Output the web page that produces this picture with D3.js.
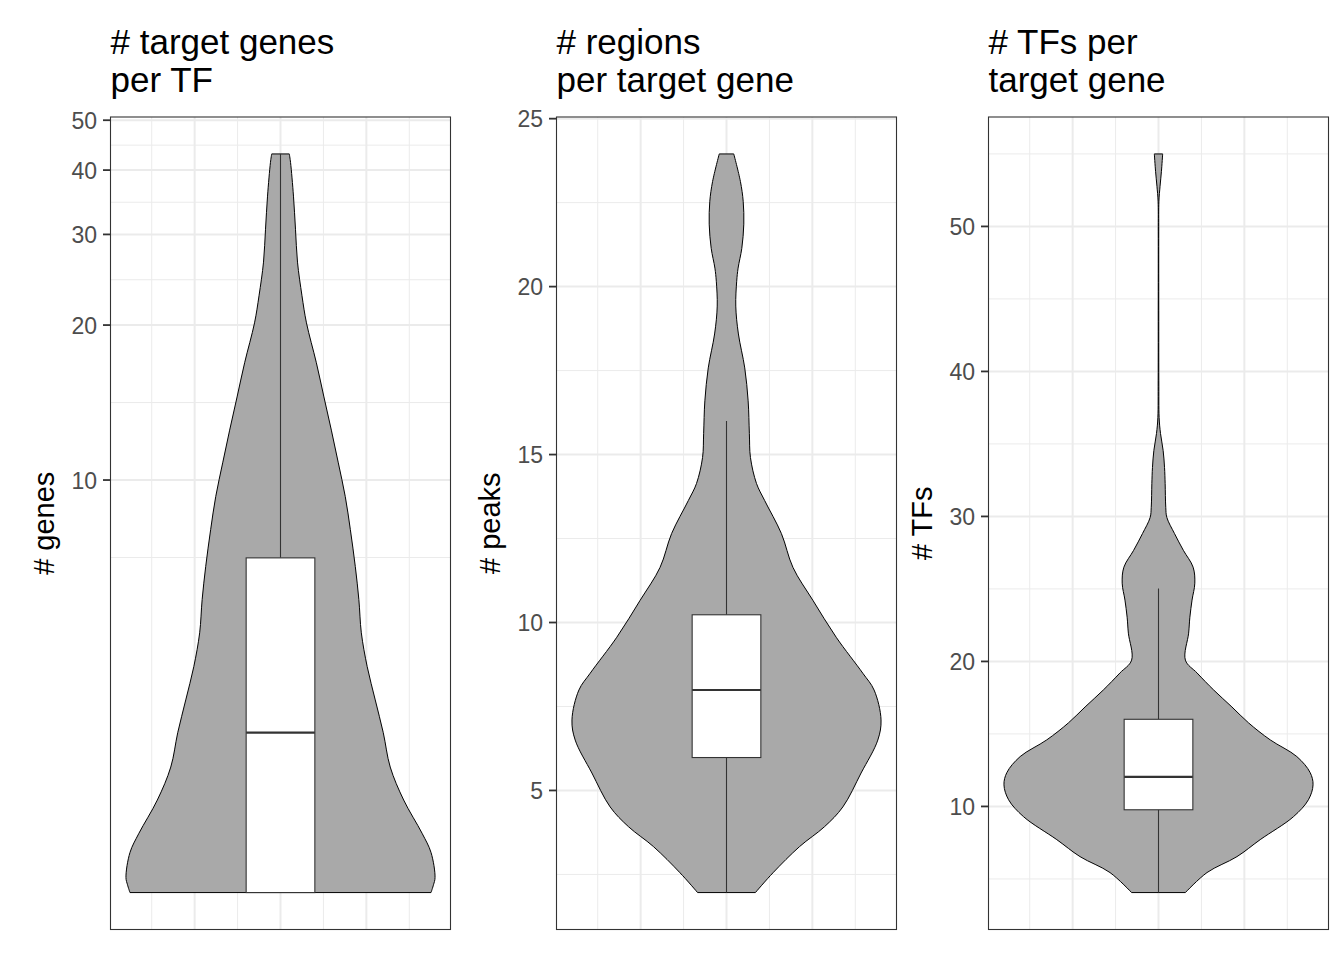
<!DOCTYPE html>
<html>
<head>
<meta charset="utf-8">
<script src="https://cdn.jsdelivr.net/npm/d3@7"></script>
<style>
  body { margin: 0; background: #fff; }
  svg { display: block; font-family: "Liberation Sans", Arial, Helvetica, sans-serif; }
</style>
</head>
<body>
<div id="chart"></div>
<script>
const width = 1344;
const height = 960;
const panelTop = 117;
const panelBottom = 929.5;
const panelWidth = 340;

// # target genes per TF (log10 axis)
const genesValues = [1.58, 1.636, 1.69, 1.89, 2.06, 2.39, 2.77, 3.23, 3.74, 4.34, 5.05, 5.86, 6.79, 8.01, 9.29, 10.8, 12.5, 14.5, 16.9, 20.2, 22.8, 26.5, 30.7, 35.6, 41.4, 43.0];
const genesDensity = [0.974, 0.99, 1.0, 0.974, 0.916, 0.797, 0.71, 0.665, 0.613, 0.561, 0.523, 0.507, 0.484, 0.452, 0.419, 0.374, 0.329, 0.281, 0.232, 0.168, 0.139, 0.11, 0.097, 0.084, 0.065, 0.057];
const genesBox = [1.58, 1.58, 3.23, 7.06, 43.0]; // lower, q1, median, q3, upper
const genesTicks = [10, 20, 30, 40, 50];

// # regions per target gene
const peaksValues = [1.96, 2.55, 3.33, 3.92, 4.51, 5.52, 6.5, 7.1, 7.99, 8.49, 9.56, 10.66, 11.64, 12.65, 13.63, 14.14, 14.91, 15.62, 16.6, 17.58, 18.59, 19.42, 20.16, 20.55, 21.14, 21.86, 22.54, 23.13, 23.95];
const peaksDensity = [0.187, 0.301, 0.473, 0.634, 0.753, 0.871, 0.979, 1.0, 0.955, 0.882, 0.71, 0.559, 0.43, 0.355, 0.247, 0.194, 0.155, 0.148, 0.14, 0.118, 0.077, 0.06, 0.066, 0.075, 0.099, 0.112, 0.108, 0.09, 0.047];
const peaksBox = [1.96, 5.98, 7.99, 10.23, 16.0];
const peaksTicks = [5, 10, 15, 20, 25];

// # TFs per target gene
const tfsValues = [4.06, 5.44, 6.54, 7.71, 9.29, 10.46, 11.49, 12.34, 13.44, 14.59, 15.76, 16.86, 18.03, 19.2, 20.09, 21.95, 23.05, 24.23, 25.4, 26.5, 27.66, 28.83, 29.93, 30.63, 32.28, 33.38, 34.55, 35.72, 36.82, 39.35, 44.86, 49.68, 51.74, 52.77, 53.8, 55.0];
const tfsDensity = [0.174, 0.314, 0.508, 0.658, 0.873, 0.97, 1.0, 0.981, 0.895, 0.723, 0.583, 0.475, 0.357, 0.25, 0.174, 0.195, 0.203, 0.217, 0.235, 0.224, 0.161, 0.103, 0.054, 0.047, 0.043, 0.039, 0.03, 0.013, 0.004, 0.002, 0.0015, 0.0015, 0.0026, 0.01, 0.019, 0.027];
const tfsBox = [4.06, 9.77, 12.04, 16.01, 25.03];
const tfsTicks = [10, 20, 30, 40, 50];

const xMajor = [-0.25, 0, 0.25];

const panels = [
    { left: 110.5, title: ["# target genes", "per TF"], yTitle: "# genes", log: true,
      values: genesValues, density: genesDensity, box: genesBox, ticks: genesTicks },
    { left: 556.5, title: ["# regions", "per target gene"], yTitle: "# peaks", log: false,
      values: peaksValues, density: peaksDensity, box: peaksBox, ticks: peaksTicks },
    { left: 988.5, title: ["# TFs per", "target gene"], yTitle: "# TFs", log: false,
      values: tfsValues, density: tfsDensity, box: tfsBox, ticks: tfsTicks }
];

const svg = d3.select("#chart")
    .append("svg")
    .attr("width", width)
    .attr("height", height);

// minor breaks like ggplot: midpoints between majors in transformed space
function minorBreaks(majors, lo, hi) {
    const bd = majors[1] - majors[0];
    const b = [majors[0] - bd, ...majors, majors[majors.length - 1] + bd];
    const out = [];
    for (let i = 0; i < b.length - 1; i++) {
        const m = (b[i] + b[i + 1]) / 2;
        if (m > lo && m < hi) out.push(m);
    }
    return out;
}

panels.forEach(p => {
    const g = svg.append("g");
    const t = p.log ? Math.log10 : (v => v);
    const inv = p.log ? (v => Math.pow(10, v)) : (v => v);

    const lo = t(d3.min(p.values)), hi = t(d3.max(p.values));
    const pad = (hi - lo) * 0.05;
    const y = (p.log ? d3.scaleLog() : d3.scaleLinear())
        .domain([inv(lo - pad), inv(hi + pad)])
        .range([panelBottom, panelTop]);
    const x = d3.scaleLinear()
        .domain([-0.495, 0.495])
        .range([p.left, p.left + panelWidth]);

    // grid
    const yMinor = minorBreaks(p.ticks.map(t), lo - pad, hi + pad).map(inv);
    const xMinor = minorBreaks(xMajor, -0.495, 0.495);

    g.append("g").selectAll("line")
        .data(yMinor)
        .enter().append("line")
        .attr("x1", p.left).attr("x2", p.left + panelWidth)
        .attr("y1", d => y(d)).attr("y2", d => y(d))
        .attr("stroke", "#ebebeb").attr("stroke-width", 1);
    g.append("g").selectAll("line")
        .data(xMinor)
        .enter().append("line")
        .attr("x1", d => x(d)).attr("x2", d => x(d))
        .attr("y1", panelTop).attr("y2", panelBottom)
        .attr("stroke", "#ebebeb").attr("stroke-width", 1);
    g.append("g").selectAll("line")
        .data(p.ticks)
        .enter().append("line")
        .attr("x1", p.left).attr("x2", p.left + panelWidth)
        .attr("y1", d => y(d)).attr("y2", d => y(d))
        .attr("stroke", "#ebebeb").attr("stroke-width", 2);
    g.append("g").selectAll("line")
        .data(xMajor)
        .enter().append("line")
        .attr("x1", d => x(d)).attr("x2", d => x(d))
        .attr("y1", panelTop).attr("y2", panelBottom)
        .attr("stroke", "#ebebeb").attr("stroke-width", 2);

    // violin
    const pts = p.values.map((v, i) => ({ v: v, w: p.density[i] }));
    const area = d3.area()
        .curve(d3.curveCatmullRom)
        .y(d => y(d.v))
        .x0(d => x(-0.45 * d.w))
        .x1(d => x(0.45 * d.w));
    g.append("path")
        .datum(pts)
        .attr("d", area)
        .attr("fill", "#a9a9a9")
        .attr("stroke", "#000")
        .attr("stroke-width", 1);

    // boxplot
    const [lower, q1, med, q3, upper] = p.box;
    g.append("line")
        .attr("x1", x(0)).attr("x2", x(0))
        .attr("y1", y(upper)).attr("y2", y(q3))
        .attr("stroke", "#333").attr("stroke-width", 1.1);
    g.append("line")
        .attr("x1", x(0)).attr("x2", x(0))
        .attr("y1", y(q1)).attr("y2", y(lower))
        .attr("stroke", "#333").attr("stroke-width", 1.1);
    g.append("rect")
        .attr("x", x(-0.1))
        .attr("width", x(0.1) - x(-0.1))
        .attr("y", y(q3))
        .attr("height", y(q1) - y(q3))
        .attr("fill", "#fff")
        .attr("stroke", "#333")
        .attr("stroke-width", 1.1);
    g.append("line")
        .attr("x1", x(-0.1)).attr("x2", x(0.1))
        .attr("y1", y(med)).attr("y2", y(med))
        .attr("stroke", "#333").attr("stroke-width", 2.2);

    // panel border
    g.append("rect")
        .attr("x", p.left).attr("y", panelTop)
        .attr("width", panelWidth).attr("height", panelBottom - panelTop)
        .attr("fill", "none")
        .attr("stroke", "#333")
        .attr("stroke-width", 1.1);

    // y axis ticks and labels
    g.append("g").selectAll("line")
        .data(p.ticks)
        .enter().append("line")
        .attr("x1", p.left - 7.5).attr("x2", p.left)
        .attr("y1", d => y(d)).attr("y2", d => y(d))
        .attr("stroke", "#333").attr("stroke-width", 1.8);
    g.append("g").selectAll("text")
        .data(p.ticks)
        .enter().append("text")
        .attr("x", p.left - 13.5)
        .attr("y", d => y(d))
        .attr("dy", "0.37em")
        .attr("text-anchor", "end")
        .attr("fill", "#4d4d4d")
        .style("font-size", "23px")
        .text(d => d);

    // axis title
    g.append("text")
        .attr("transform", `translate(${p.left - 57},${(panelTop + panelBottom) / 2}) rotate(-90)`)
        .attr("text-anchor", "middle")
        .attr("fill", "#000")
        .style("font-size", "29px")
        .text(p.yTitle);

    // panel title
    const title = g.append("text")
        .attr("fill", "#000")
        .style("font-size", "35px");
    p.title.forEach((line, i) => {
        title.append("tspan")
            .attr("x", p.left)
            .attr("y", 54 + i * 38)
            .text(line);
    });
});
</script>
</body>
</html>
